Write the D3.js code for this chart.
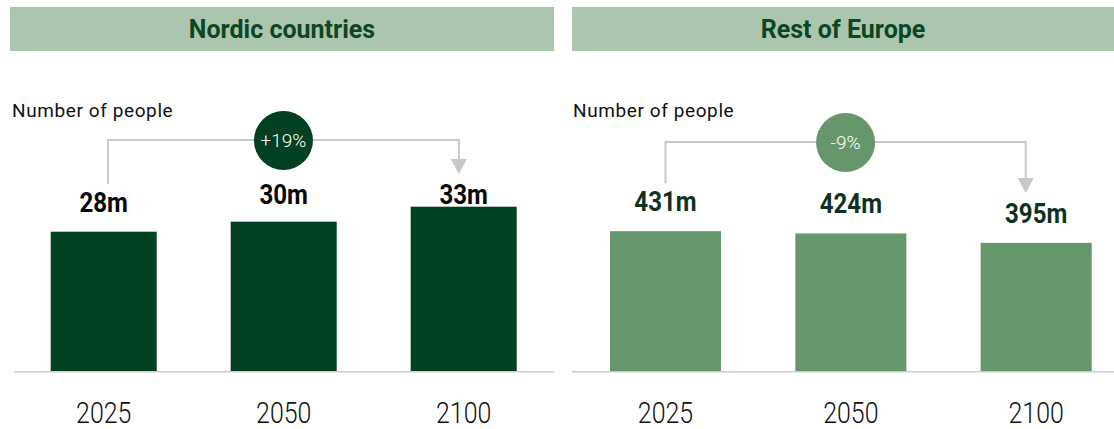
<!DOCTYPE html>
<html>
<head>
<meta charset="utf-8">
<script src="https://cdn.jsdelivr.net/npm/d3@7"></script>
<style>
  html, body { margin: 0; padding: 0; background: #ffffff; }
  svg { display: block; }
</style>
</head>
<body>
<svg id="chart" width="1114" height="429"></svg>
<script>
// Population figures (millions) by year
const years = ["2025", "2050", "2100"];
const nordicPeople = [28, 30, 33];
const restOfEuropePeople = [431, 424, 395];
const panelTitles = ["Nordic countries", "Rest of Europe"];
const changeLabels = ["+19%", "-9%"];
const valueSuffix = "m";
const axisTitle = "Number of people";

const baseline = 371.7;
const plotH = 300;
const font = "Roboto, 'Open Sans', sans-serif";
const narrow = 0.86; // horizontal squeeze for the condensed number styles

const panels = [
  {
    title: panelTitles[0], values: nordicPeople, change: changeLabels[0],
    band: [10, 554], axis: [14, 554], bars: [50.7, 516.7], padInner: 0.411,
    yMax: 60, fill: "#024022", labelFill: "#050505",
    connectorY: 140, ends: [4.3, -4.8], minLabelY: 204, subtitleX: 12
  },
  {
    title: panelTitles[1], values: restOfEuropePeople, change: changeLabels[1],
    band: [572, 1114], axis: [572, 1114], bars: [610, 1091.7], padInner: 0.401,
    yMax: 920, fill: "#66966c", labelFill: "#0d3320",
    connectorY: 142, ends: [0, -10.5], minLabelY: 0, subtitleX: 573
  }
];

const svg = d3.select("#chart");

panels.forEach(p => {
  const g = svg.append("g");

  // header band
  g.append("rect")
    .attr("x", p.band[0]).attr("y", 7)
    .attr("width", p.band[1] - p.band[0]).attr("height", 44)
    .attr("fill", "#abc5ae");
  g.append("text")
    .attr("x", (p.band[0] + p.band[1]) / 2).attr("y", 38)
    .attr("text-anchor", "middle")
    .attr("font-family", font).attr("font-weight", 700).attr("font-size", 25)
    .attr("fill", "#0b4722")
    .text(p.title);

  g.append("text")
    .attr("x", p.subtitleX).attr("y", 117)
    .attr("font-family", font).attr("font-weight", 400).attr("font-size", 19)
    .attr("letter-spacing", 0.6)
    .attr("fill", "#111111")
    .text(axisTitle);

  const x = d3.scaleBand().domain(years).range(p.bars).paddingInner(p.padInner).paddingOuter(0);
  const y = d3.scaleLinear().domain([0, p.yMax]).range([baseline, baseline - plotH]);
  const rows = years.map((yr, i) => ({ year: yr, value: p.values[i] }));
  const cxOf = d => x(d.year) + x.bandwidth() / 2;

  // bars
  g.selectAll("rect.bar").data(rows).join("rect")
    .attr("class", "bar")
    .attr("x", d => x(d.year))
    .attr("y", d => y(d.value))
    .attr("width", x.bandwidth())
    .attr("height", d => y(0) - y(d.value))
    .attr("fill", p.fill);

  // year labels under the baseline
  const axis = d3.axisBottom(x).tickSize(0).tickPadding(0);
  const ax = g.append("g").attr("transform", `translate(0,${baseline})`).call(axis);
  ax.select(".domain").remove();
  ax.selectAll(".tick text")
    .attr("y", 0).attr("dy", 0)
    .attr("transform", `translate(0,51) scale(${narrow},1)`)
    .attr("font-family", font).attr("font-size", 29).attr("font-weight", 300)
    .attr("fill", "#111111");
  g.append("line")
    .attr("x1", p.axis[0]).attr("x2", p.axis[1])
    .attr("y1", baseline).attr("y2", baseline)
    .attr("stroke", "#cccccc").attr("stroke-width", 1.6);

  // value labels
  const labelY = d => Math.max(y(d.value) - 20, p.minLabelY);
  const capH = 20;
  g.selectAll("text.val").data(rows).join("text")
    .attr("class", "val")
    .attr("transform", d => `translate(${cxOf(d)},${labelY(d)}) scale(${narrow},1)`)
    .attr("text-anchor", "middle")
    .attr("font-family", font).attr("font-weight", 700).attr("font-size", 28)
    .attr("fill", p.labelFill)
    .text(d => d.value + valueSuffix);

  // change connector: from first bar to last bar, ending in an arrow
  const first = rows[0], last = rows[rows.length - 1];
  const xa = cxOf(first) + p.ends[0];
  const xb = cxOf(last) + p.ends[1];
  const yStart = labelY(first) - capH - 8;
  const tip = labelY(last) - capH - 10;
  const headH = 15, headW = 8;
  g.append("path")
    .attr("d", d3.line()([[xa, yStart], [xa, p.connectorY], [xb, p.connectorY], [xb, tip - headH + 1]]))
    .attr("fill", "none").attr("stroke", "#c8c8c8").attr("stroke-width", 2);
  g.append("path")
    .attr("d", d3.line()([[xb - headW, tip - headH], [xb + headW, tip - headH], [xb, tip]]) + "Z")
    .attr("fill", "#c8c8c8");

  const cx = (xa + xb) / 2;
  g.append("circle")
    .attr("cx", cx).attr("cy", p.connectorY + 0.5).attr("r", 29.5)
    .attr("fill", p.fill);
  g.append("text")
    .attr("x", cx).attr("y", p.connectorY + 7)
    .attr("text-anchor", "middle")
    .attr("font-family", font).attr("font-weight", 300).attr("font-size", 19)
    .attr("fill", "#ffffff")
    .text(p.change);
});
</script>
</body>
</html>
